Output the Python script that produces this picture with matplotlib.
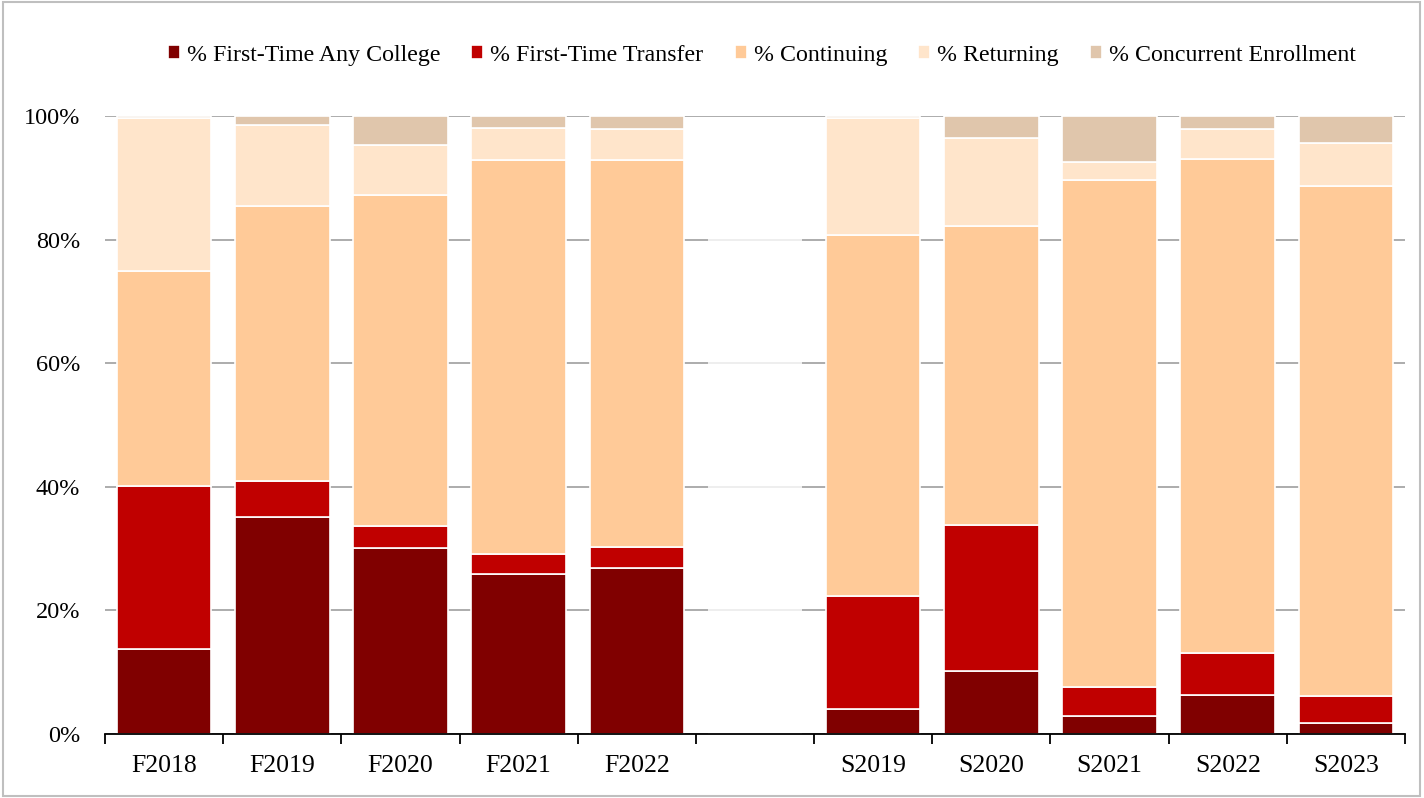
import matplotlib
matplotlib.use("Agg")
import matplotlib.pyplot as plt
import numpy as np

categories = ["F2018", "F2019", "F2020", "F2021", "F2022", "", "S2019", "S2020", "S2021", "S2022", "S2023"]
first_time_any = [13.8, 35.1, 30.1, 25.9, 26.9, np.nan, 4.0, 10.2, 2.9, 6.3, 1.8]
first_time_transfer = [26.3, 5.8, 3.6, 3.2, 3.4, np.nan, 18.3, 23.6, 4.7, 6.8, 4.3]
continuing = [34.8, 44.5, 53.5, 63.8, 62.6, np.nan, 58.4, 48.4, 82.0, 79.9, 82.6]
returning = [24.8, 13.1, 8.1, 5.2, 5.0, np.nan, 19.0, 14.2, 3.0, 4.9, 6.9]
concurrent = [0.3, 1.5, 4.7, 1.9, 2.1, np.nan, 0.3, 3.6, 7.4, 2.1, 4.4]

series_names = ["% First-Time Any College", "% First-Time Transfer", "% Continuing",
                "% Returning", "% Concurrent Enrollment"]
colors = ["#800000", "#C00000", "#FFCA98", "#FFE5CB", "#E0C6AC"]

plt.rcParams['font.family'] = ['Liberation Serif', 'DejaVu Serif']

fig = plt.figure(figsize=(14.24, 7.98), dpi=100)
ax = fig.add_axes([0.0737, 0.0802, 0.913, 0.7744])

x = np.arange(len(categories))
data = [first_time_any, first_time_transfer, continuing, returning, concurrent]
bottom = np.zeros(len(categories))
handles = []
for vals, name, col in zip(data, series_names, colors):
    v = np.nan_to_num(np.array(vals, dtype=float))
    h = ax.bar(x, v, 0.8, bottom=bottom, color=col, edgecolor="white", linewidth=1.2,
               label=name, zorder=3)
    handles.append(h)
    bottom += v

# faded gridlines in the empty slot
gap = categories.index("")
ax.bar([gap], [99.4], 0.8, color="white", alpha=0.8, linewidth=0, zorder=2.5)

ax.set_xlim(-0.5, len(categories) - 0.5)
ax.set_ylim(0, 100)
ax.set_yticks(np.arange(0, 101, 20))
ax.set_yticklabels([f"{int(t)}%" for t in np.arange(0, 101, 20)], fontsize=17.5)
ax.yaxis.grid(True, color="#A6A6A6", linewidth=1.3, zorder=0)
ax.set_axisbelow(True)
ax.tick_params(axis="y", length=0, pad=18)

ax.set_xticks(x)
ax.set_xticklabels(categories, fontsize=18.5)
ax.tick_params(axis="x", length=0, pad=15)
ax.set_xticks(np.arange(-0.5, len(categories)), minor=True)
ax.tick_params(axis="x", which="minor", length=7, width=1.3, color="black", direction="out")

for s in ["top", "right", "left"]:
    ax.spines[s].set_visible(False)
ax.spines["bottom"].set_color("black")
ax.spines["bottom"].set_linewidth(1.3)
ax.spines["bottom"].set_zorder(4)

fig.legend(handles=handles, labels=series_names, loc="center", bbox_to_anchor=(0.535, 0.931),
           ncol=5, frameon=False, fontsize=17.2, handlelength=0.5, handleheight=0.5,
           handletextpad=0.3, columnspacing=1.3)

border = plt.Rectangle((0.002, 0.002), 0.995, 0.995, transform=fig.transFigure,
                       fill=False, edgecolor="#BFBFBF", linewidth=1.5)
fig.patches.append(border)

fig.savefig("out.png", dpi=100)
